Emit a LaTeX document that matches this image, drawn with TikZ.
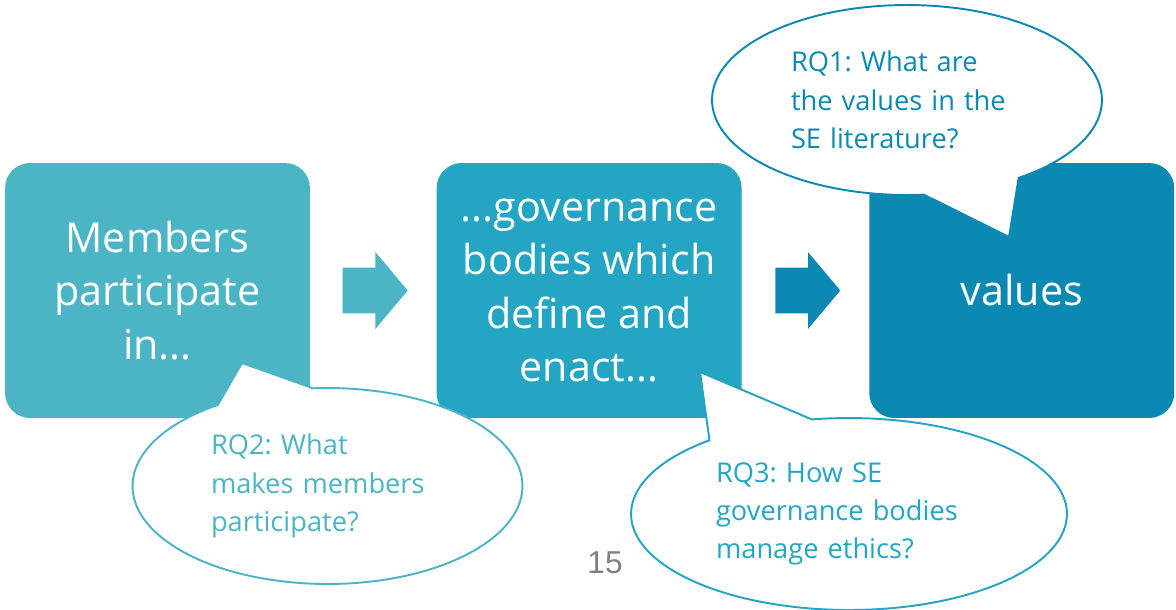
\documentclass[tikz,border=0pt]{standalone}
\usepackage{fontspec}
\setmainfont{Open Sans}
\newfontfamily\pagefont{Liberation Sans}
\usetikzlibrary{positioning,calc,shapes.arrows,shapes.callouts}

\definecolor{tealA}{HTML}{4BB5C5}
\definecolor{tealB}{HTML}{23A5C3}
\definecolor{tealC}{HTML}{0C89B2}

\tikzset{
  stagebox/.style={fill=#1, rounded corners=0.5cm, minimum width=6.1cm, minimum height=5.1cm,
    text=white, align=center, inner sep=0pt, font=\fontsize{23.5}{30.5}\selectfont},
  blockarrow/.style={single arrow, fill=#1, inner xsep=0pt, inner ysep=0.45cm,
    minimum height=1.3cm, single arrow head extend=0.31cm, single arrow tip angle=100,
    single arrow head indent=0pt, anchor=tail},
  question/.style={ellipse callout, draw=#1, fill=white, line width=1.1pt, text=#1,
    align=left, inner sep=0pt, callout pointer arc=30,
    font=\fontsize{15.5}{21.8}\selectfont\frenchspacing},
}

\begin{document}
\begin{tikzpicture}[x=0.02cm, y=-0.02cm]
  \fill[white] (0,0) rectangle (1176,609);
  \useasboundingbox (0,0) rectangle (1176,609);

  % the three stages
  \node[stagebox=tealA] (members) at (157.5,290.5) {Members\\participate\\in...};
  \node[stagebox=tealB, right=2.52cm of members] (bodies) {...governance\\bodies which\\define and\\enact...};
  \node[stagebox=tealC, right=2.54cm of bodies] (values) {values};

  \node[blockarrow=tealA] (arr1) at ($(members.east)+(32,0)$) {};
  \node[blockarrow=tealC] (arr2) at ($(bodies.east)+(33,0)$) {};

  % research questions
  \node[question=tealC, minimum width=7.8cm, minimum height=3.8cm, text width=4.64cm,
    callout absolute pointer={(1009,237)}] (rq1) at (907,100)
    {RQ1: What are\\the values in the\\SE literature?};
  \node[question=tealA, minimum width=7.8cm, minimum height=3.92cm, text width=4.66cm,
    callout absolute pointer={(242,363)}] (rq2) at (327.5,486)
    {RQ2: What\\makes members\\participate?};
  \node[question=tealB, minimum width=8.72cm, minimum height=3.84cm, text width=5.32cm,
    callout absolute pointer={(700,372)}] (rq3) at (849,514)
    {RQ3: How SE\\governance bodies\\manage ethics?};

  \node[text=black!50, font=\pagefont\fontsize{18}{20}\selectfont] (page) at (605,563) {15};
\end{tikzpicture}
\end{document}
